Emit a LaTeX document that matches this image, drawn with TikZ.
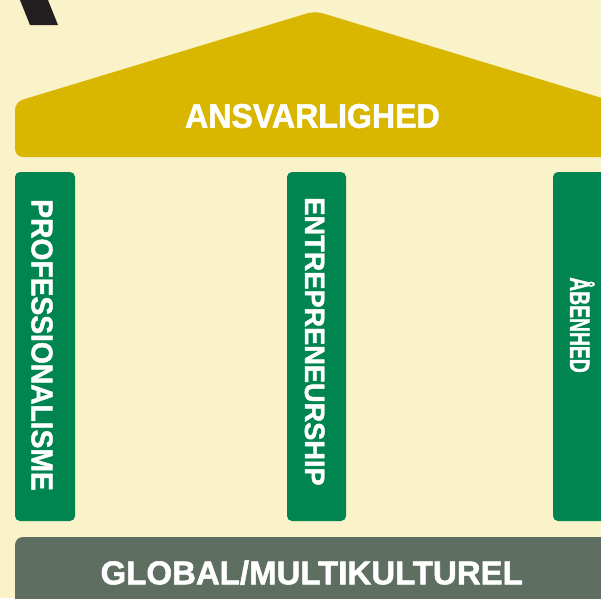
\documentclass[tikz,border=0pt]{standalone}
\usepackage{fontspec}
\setmainfont{Liberation Sans}[BoldFeatures={FakeBold=1.6}]
\usepackage{xcolor}
\usepackage{graphicx}

\definecolor{cream}{RGB}{250,242,200}
\definecolor{roofgold}{RGB}{217,182,0}
\definecolor{pillargreen}{RGB}{0,133,80}
\definecolor{floorgrey}{RGB}{94,111,98}
\definecolor{darkstroke}{RGB}{35,31,32}

\tikzset{
  word/.style={text=white, inner sep=0pt, anchor=base, font=\bfseries},
  pillar/.style={fill=pillargreen, rounded corners=5pt},
}

\begin{document}
\begin{tikzpicture}[x=1pt,y=-1pt]
  % Draw the background and keep everything inside it
  \useasboundingbox (0,0) rectangle (601,598);
  \fill[cream] (0,0) rectangle (601,598);
  \clip (0,0) rectangle (601,598);

  % Dark stroke in the corner
  \fill[darkstroke] (16,-10) -- (44,-10) -- (58,25) -- (30,25) -- cycle;

  % Roof
  \fill[roofgold, rounded corners=8pt] (15,157) -- (15,102) -- (315,11) -- (615,102) -- (615,157) -- cycle;
  \node[word] (roof) at (312.4,127.7) {\fontsize{34}{34}\selectfont\scalebox{0.945}[1]{ANSVARLIGHED}};

  % Pillars
  \fill[pillar] (15,172) rectangle (75,521);
  \fill[pillar] (287,172) rectangle (346,521);
  \fill[pillar] (553,172) rectangle (613,521);
  \node[word, rotate=-90] (prof) at (31.7,345) {\fontsize{30}{30}\selectfont\scalebox{0.94}[1]{PROFESSIONALISME}};
  \node[word, rotate=-90] (entre) at (305,341.5) {\fontsize{28}{28}\selectfont\scalebox{0.97}[1]{ENTREPRENEURSHIP}};
  \node[word, rotate=-90] (open) at (570,325) {\fontsize{28}{28}\selectfont\scalebox{0.69}[1]{ÅBENHED}};

  % Floor
  \fill[floorgrey, rounded corners=8pt] (15,537) rectangle (615,612);
  \node[word] (globe) at (311.7,584.3) {\fontsize{33}{33}\selectfont\scalebox{1.0}[1]{GLOBAL/MULTIKULTUREL}};
\end{tikzpicture}
\end{document}
